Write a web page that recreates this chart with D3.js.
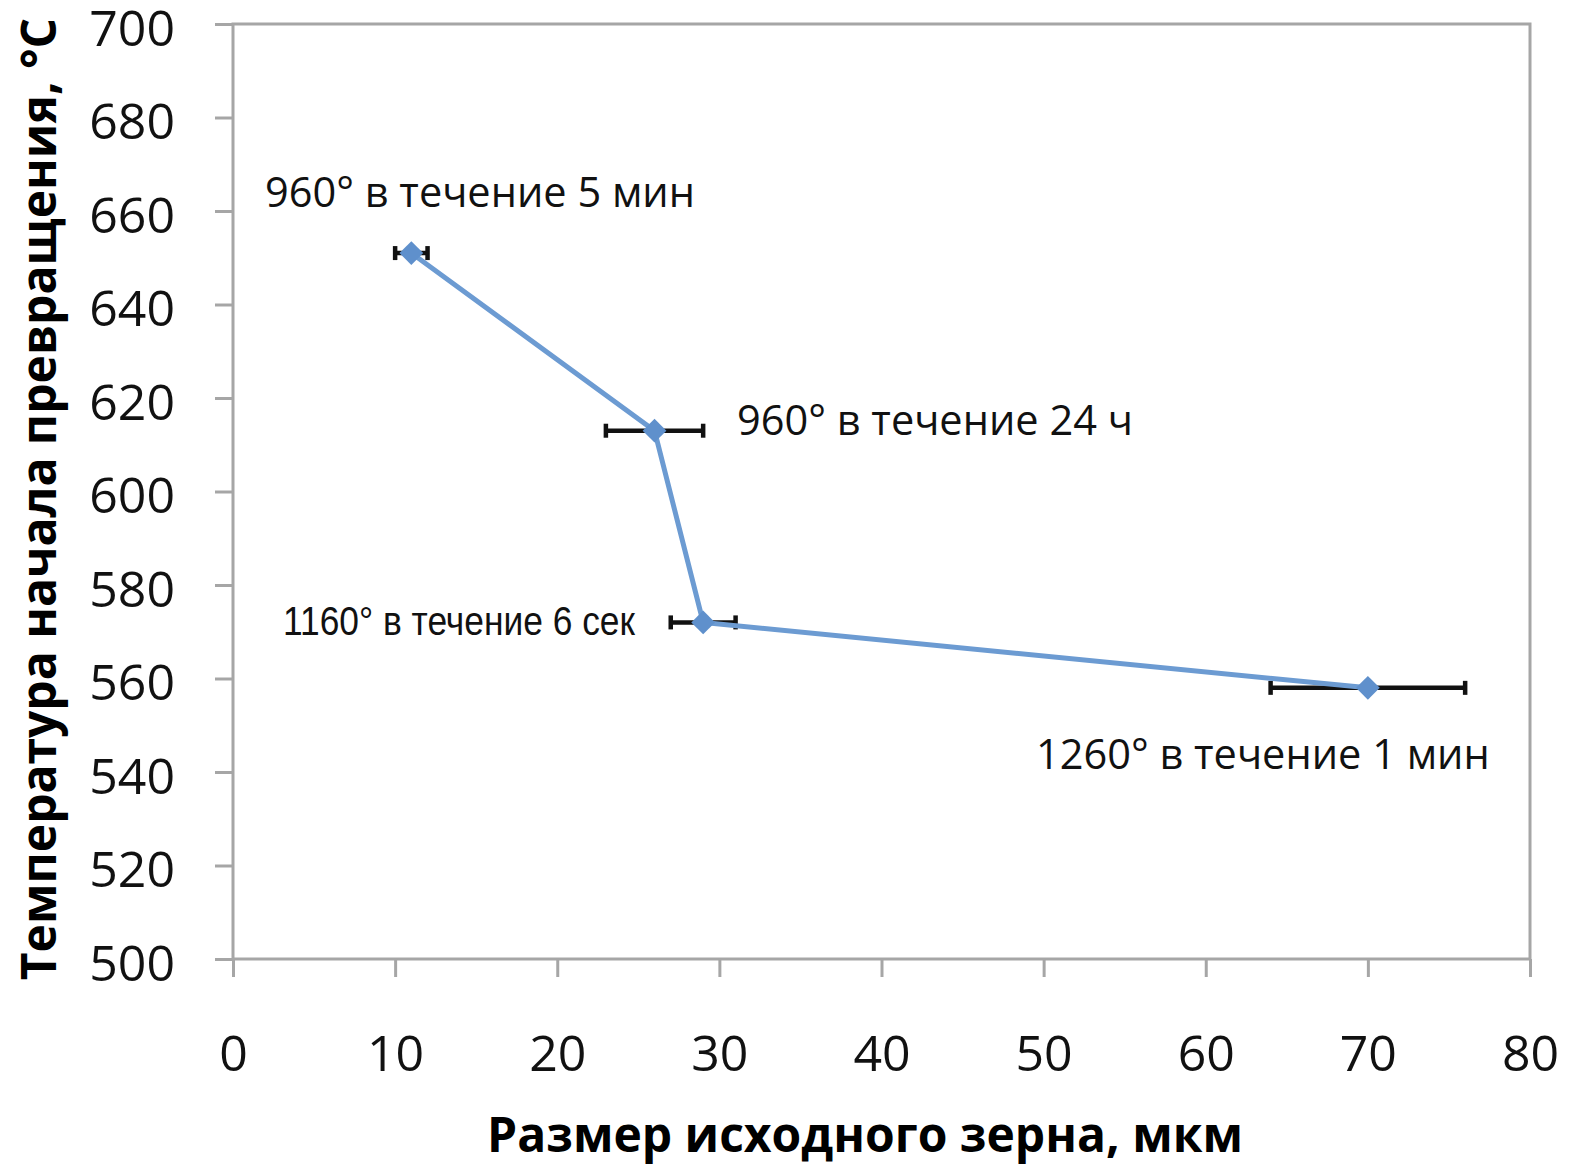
<!DOCTYPE html>
<html>
<head>
<meta charset="utf-8">
<script src="https://cdn.jsdelivr.net/npm/d3@7"></script>
<style>
  body { margin: 0; background: #fff; }
  text { font-family: "Open Sans", "Lato", sans-serif; }
</style>
</head>
<body>
<div id="chart"></div>
<script>
// grain size (um), start temperature (C), error (um)
var grain = [11, 26, 29, 70];
var temp = [651, 613, 572, 558];
var errX = [1, 3, 2, 6];
var labels = ["960° в течение 5 мин", "960° в течение 24 ч", "1160° в течение 6 сек", "1260° в течение 1 мин"];
var xTicks = [0, 10, 20, 30, 40, 50, 60, 70, 80];
var yTicks = [500, 520, 540, 560, 580, 600, 620, 640, 660, 680, 700];

var width = 1569, height = 1169;
var margin = {left: 233, top: 24, right: 39, bottom: 210};

var svg = d3.select("#chart").append("svg")
    .attr("width", width)
    .attr("height", height);

var x = d3.scaleLinear().domain([0, 80]).range([margin.left, width - margin.right]);
var y = d3.scaleLinear().domain([500, 700]).range([height - margin.bottom, margin.top]);

var axisColor = "#a6a6a6";

// plot frame
svg.append("rect")
    .attr("x", x(0)).attr("y", y(700))
    .attr("width", x(80) - x(0)).attr("height", y(500) - y(700))
    .attr("fill", "none").attr("stroke", axisColor).attr("stroke-width", 3);

// y axis
var yAxis = svg.append("g")
    .attr("transform", "translate(" + x(0) + ",0)")
    .call(d3.axisLeft(y).tickValues(yTicks).tickSize(18).tickPadding(40));
yAxis.select(".domain").remove();
yAxis.selectAll("line").attr("stroke", axisColor).attr("stroke-width", 3);
yAxis.selectAll("text")
    .attr("font-size", 50).attr("fill", "#111")
    .attr("dy", "0.42em")
    .style("font-family", "'Open Sans', sans-serif");

// x axis
var xAxis = svg.append("g")
    .attr("transform", "translate(0," + y(500) + ")")
    .call(d3.axisBottom(x).tickValues(xTicks).tickSize(18).tickPadding(58));
xAxis.select(".domain").remove();
xAxis.selectAll("line").attr("stroke", axisColor).attr("stroke-width", 3);
xAxis.selectAll("text")
    .attr("font-size", 50).attr("fill", "#111")
    .style("font-family", "'Open Sans', sans-serif");

// axis titles
svg.append("text")
    .attr("x", 865)
    .attr("y", 1152)
    .attr("text-anchor", "middle")
    .attr("font-size", 48).attr("font-weight", "bold")
    .text("Размер исходного зерна, мкм");

svg.append("text")
    .attr("transform", "translate(56," + 499 + ") rotate(-90)")
    .attr("text-anchor", "middle")
    .attr("font-size", 48).attr("font-weight", "bold")
    .text("Температура начала превращения, °С");

var pts = grain.map(function(g, i) { return {x: g, y: temp[i], e: errX[i], label: labels[i]}; });

// error bars
var eb = svg.append("g").attr("stroke", "#111").attr("stroke-width", 4.5);
pts.forEach(function(d) {
  eb.append("line")
      .attr("x1", x(d.x - d.e)).attr("x2", x(d.x + d.e))
      .attr("y1", y(d.y)).attr("y2", y(d.y));
  [d.x - d.e, d.x + d.e].forEach(function(v) {
    eb.append("line")
        .attr("x1", x(v)).attr("x2", x(v))
        .attr("y1", y(d.y) - 7).attr("y2", y(d.y) + 7);
  });
});

// line
var line = d3.line().x(function(d) { return x(d.x); }).y(function(d) { return y(d.y); });
svg.append("path")
    .datum(pts)
    .attr("d", line)
    .attr("fill", "none")
    .attr("stroke", "#6c9bd2")
    .attr("stroke-width", 5);

// diamond markers
svg.selectAll(".pt")
    .data(pts)
    .enter().append("path")
    .attr("class", "pt")
    .attr("transform", function(d) { return "translate(" + x(d.x) + "," + y(d.y) + ")"; })
    .attr("d", d3.symbol().type(d3.symbolDiamond2).size(360))
    .attr("fill", "#5f90cc");

// point labels
var lblPos = [
  {x: 265, y: 207, size: 41.5, len: 427, narrow: false},
  {x: 737, y: 435, size: 41.5, len: 390, narrow: false},
  {x: 283, y: 635, size: 40, len: 352, narrow: true},
  {x: 1036, y: 769, size: 41.5, len: 451, narrow: false}
];
pts.forEach(function(d, i) {
  var p = lblPos[i];
  var t = svg.append("text")
      .attr("x", p.x).attr("y", p.y)
      .attr("font-size", p.size)
      .attr("fill", "#111")
      .text(d.label);
  if (p.narrow) {
    t.style("font-family", "'Liberation Sans', Arial, sans-serif")
     .attr("textLength", p.len).attr("lengthAdjust", "spacingAndGlyphs");
  }
});
</script>
</body>
</html>
